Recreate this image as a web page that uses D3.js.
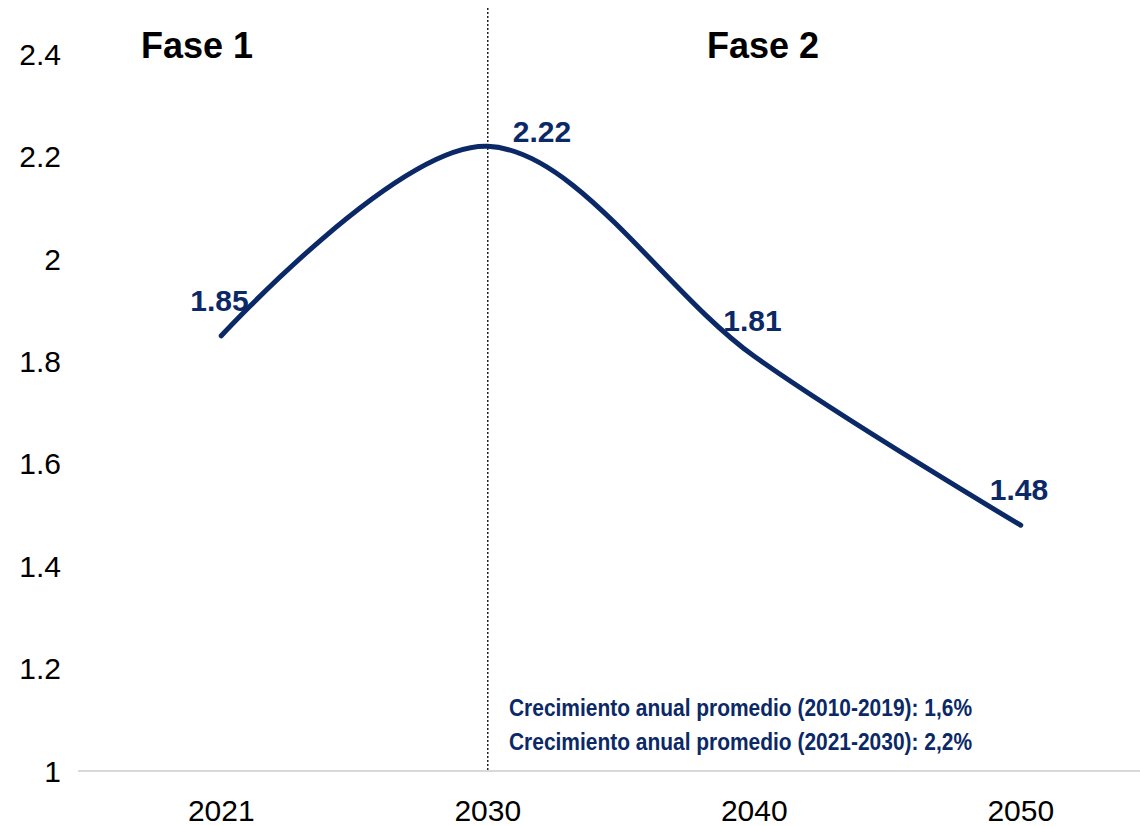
<!DOCTYPE html>
<html>
<head>
<meta charset="utf-8">
<script src="https://cdn.jsdelivr.net/npm/d3@7"></script>
<style>
  html, body { margin: 0; padding: 0; background: #ffffff; }
  svg { display: block; font-family: "Liberation Sans", Arial, sans-serif; }
</style>
</head>
<body>
<svg id="chart" width="1140" height="826"></svg>
<script>
// Series data
const years = ["2021", "2030", "2040", "2050"];
const values = [1.85, 2.22, 1.81, 1.48];
const yTicks = [1, 1.2, 1.4, 1.6, 1.8, 2, 2.2, 2.4];
const phaseLabels = ["Fase 1", "Fase 2"];
const notes = [
  "Crecimiento anual promedio (2010-2019): 1,6%",
  "Crecimiento anual promedio (2021-2030): 2,2%"
];
const phaseBreak = "2030";

const navy = "#0b2966";
const svg = d3.select("#chart");

const x = d3.scaleBand().domain(years).range([88, 1154]);
const cx = d => x(d) + x.bandwidth() / 2;
const y = d3.scaleLinear().domain([1, 2.4]).range([771, 54.2]);

// Baseline
svg.append("line")
  .attr("x1", 78).attr("x2", 1140)
  .attr("y1", y(1)).attr("y2", y(1))
  .attr("stroke", "#d9d9d9").attr("stroke-width", 2);

// Y tick labels
svg.append("g").selectAll("text")
  .data(yTicks).join("text")
  .attr("x", 61).attr("y", d => y(d))
  .attr("text-anchor", "end")
  .attr("dominant-baseline", "central")
  .attr("font-size", 30)
  .attr("fill", "#000")
  .text(d => d3.format("~g")(d));

// X category labels
svg.append("g").selectAll("text")
  .data(years).join("text")
  .attr("x", d => cx(d)).attr("y", 821)
  .attr("text-anchor", "middle")
  .attr("font-size", 30)
  .attr("fill", "#000")
  .text(d => d);

// Phase divider
svg.append("line")
  .attr("x1", cx(phaseBreak)).attr("x2", cx(phaseBreak))
  .attr("y1", 8).attr("y2", y(1))
  .attr("stroke", "#222").attr("stroke-width", 1.5)
  .attr("stroke-dasharray", "2,2");

// Phase titles
svg.append("text")
  .attr("x", 197).attr("y", 58)
  .attr("text-anchor", "middle")
  .attr("font-size", 36).attr("font-weight", "bold")
  .text(phaseLabels[0]);
svg.append("text")
  .attr("x", 763).attr("y", 58)
  .attr("text-anchor", "middle")
  .attr("font-size", 36).attr("font-weight", "bold")
  .text(phaseLabels[1]);

// Smoothed series line
const pts = years.map((yr, i) => ({ yr, v: values[i] }));
const line = d3.line()
  .x(d => cx(d.yr))
  .y(d => y(d.v))
  .curve(d3.curveCardinal.tension(0));
svg.append("path")
  .datum(pts)
  .attr("d", line)
  .attr("fill", "none")
  .attr("stroke", navy)
  .attr("stroke-width", 5)
  .attr("stroke-linecap", "round");

// Value labels (peak label sits to the right of the divider)
const peak = d3.maxIndex(values);
svg.append("g").selectAll("text")
  .data(pts).join("text")
  .attr("x", (d, i) => cx(d.yr) + (i === peak ? 25 : -31))
  .attr("y", (d, i) => y(d.v) + (i === peak ? -4 : -25))
  .attr("font-size", 30).attr("font-weight", "bold")
  .attr("fill", navy)
  .text(d => d3.format(".2f")(d.v));

// Growth notes, set in a condensed bold face
svg.append("g").selectAll("text")
  .data(notes).join("text")
  .attr("x", 509)
  .attr("y", (d, i) => 716 + i * 34)
  .attr("font-size", 23).attr("font-weight", "bold")
  .attr("textLength", 463)
  .attr("lengthAdjust", "spacingAndGlyphs")
  .attr("fill", navy)
  .text(d => d);
</script>
</body>
</html>
